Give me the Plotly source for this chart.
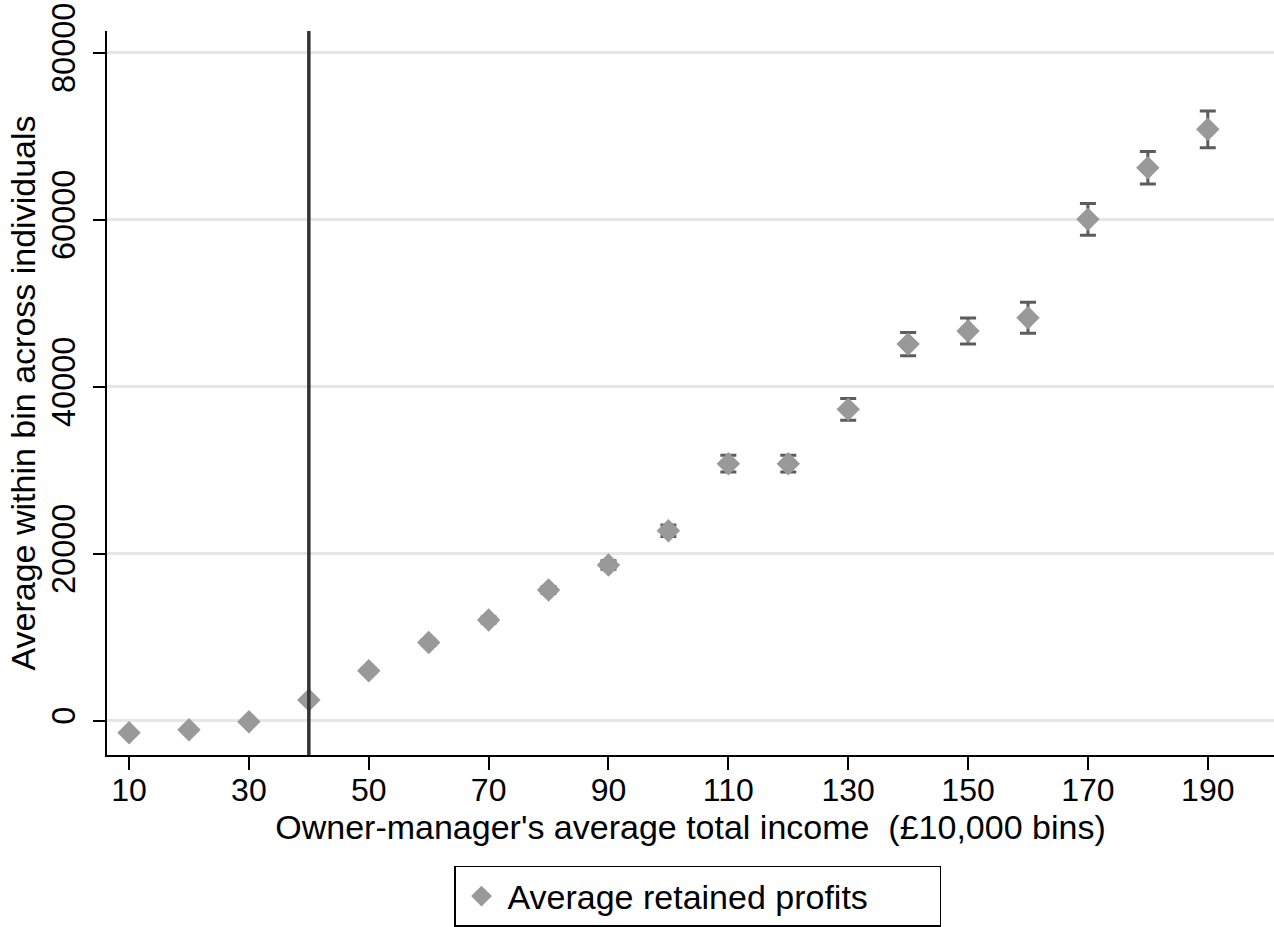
import plotly.graph_objects as go

income_bins = [10, 20, 30, 40, 50, 60, 70, 80, 90, 100, 110, 120, 130, 140, 150, 160, 170, 180, 190]
avg_retained_profits = [-1450, -1080, -120, 2480, 5990, 9360, 12060, 15650, 18650, 22750,
                        30780, 30780, 37290, 45100, 46670, 48250, 60050, 66230, 70830]
ci_half_width = [150, 150, 150, 200, 250, 300, 350, 400, 500, 700,
                 1000, 1000, 1300, 1400, 1550, 1850, 1900, 1950, 2200]
threshold = 40
x_ticks = [10, 30, 50, 70, 90, 110, 130, 150, 170, 190]
y_ticks = [0, 20000, 40000, 60000, 80000]
y_tick_labels = ["0", "20000", "40000", "60000", "80000"]

FONT = "Arial, 'Liberation Sans', sans-serif"

fig = go.Figure()
fig.add_trace(go.Scatter(
    x=income_bins, y=avg_retained_profits, mode="markers",
    name="Average retained profits",
    marker=dict(symbol="diamond", size=18, color="#999999", line=dict(width=0)),
    error_y=dict(type="data", array=ci_half_width, visible=True,
                 color="#5c5c5c", thickness=3, width=8),
))
fig.add_vline(x=threshold, line=dict(color="#333333", width=3.5), layer="above")

fig.update_layout(
    width=1274, height=927,
    margin=dict(l=107, r=0, t=31, b=172, autoexpand=False),
    paper_bgcolor="white", plot_bgcolor="white",
    font=dict(family=FONT, size=28.5, color="black"),
    showlegend=True,
    legend=dict(
        orientation="h", x=0.506, xanchor="center", y=-0.1533, yanchor="top",
        bordercolor="black", borderwidth=1.5, font=dict(family=FONT, size=34, color="black"),
        entrywidth=427, itemsizing="trace", itemwidth=42,
    ),
    xaxis=dict(
        range=[6.32, 201.05], tickvals=x_ticks, ticks="outside", ticklen=13,
        tickwidth=2, tickcolor="black", showline=True, linecolor="black", linewidth=2,
        showgrid=False, zeroline=False, automargin=False, ticklabelstandoff=-7,
        tickfont=dict(family=FONT, size=32, color="black"),
        title=dict(text="Owner-manager's average total income  (£10,000 bins)", standoff=7),
    ),
    yaxis=dict(
        range=[-4108, 82600], tickvals=y_ticks, ticktext=y_tick_labels,
        ticks="outside", ticklen=12,
        tickwidth=2, tickcolor="black", showline=True, linecolor="black", linewidth=2,
        showgrid=True, gridcolor="#e6e6e6", gridwidth=3, zeroline=False,
        tickangle=-90, automargin=False, ticklabeloverflow="allow", ticklabelstandoff=5,
        tickfont=dict(family=FONT, size=32.5, color="black"),
        title=dict(text="Average within bin across individuals", standoff=0),
    ),
)

# remove the page's default 8px body margin so the figure fills the window exactly
fig.write_html("out.html", config={"displayModeBar": False},
               post_script="document.body.style.margin='0';")
